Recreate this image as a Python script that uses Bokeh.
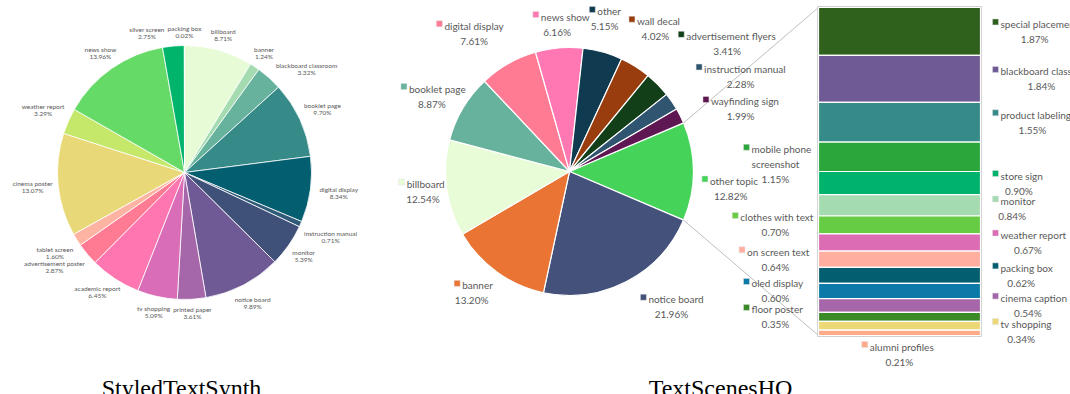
import math
from bokeh.plotting import figure
from bokeh.models import Range1d
from bokeh.core.properties import value
from bokeh.embed import file_html
from bokeh.resources import INLINE

# ---------------- data ----------------
left_title = "StyledTextSynth"
left_labels = ["billboard", "banner", "blackboard classroom", "booklet page", "digital display",
               "instruction manual", "monitor", "notice board", "printed paper", "tv shopping",
               "academic report", "advertisement poster", "tablet screen", "cinema poster",
               "weather report", "news show", "silver screen", "packing box"]
left_values = [8.71, 1.24, 3.32, 9.70, 8.34, 0.71, 5.39, 9.89, 3.61, 5.09,
               6.45, 2.87, 1.60, 13.07, 3.29, 13.96, 2.75, 0.02]
left_colors = ["#e6fbd6", "#a4dbb0", "#66b29c", "#368a88", "#035e6f", "#2f5a78", "#3f5079",
               "#6f5a96", "#a666aa", "#da6db8", "#ff76b0", "#ff7b94", "#ffb3a3", "#e9d877",
               "#c5e86a", "#66da66", "#00b46c", "#0b7aa9"]

right_title = "TextScenesHQ"
right_labels = ["other topic", "notice board", "banner", "billboard", "booklet page",
                "digital display", "news show", "other", "wall decal",
                "advertisement flyers", "instruction manual", "wayfinding sign"]
right_values = [12.82, 21.96, 13.20, 12.54, 8.87, 7.61, 6.16, 5.15, 4.02, 3.41, 2.28, 1.99]
right_colors = ["#45d35a", "#43517b", "#ea7433", "#e8fcd8", "#66b29c", "#ff7b94", "#ff78b4",
                "#0f3a50", "#993d0e", "#133f18", "#2f5570", "#5e1752"]

other_labels = ["special placement", "blackboard classroom", "product labeling",
                "mobile phone screenshot", "store sign", "monitor", "clothes with text",
                "weather report", "on screen text", "packing box", "oled display",
                "cinema caption", "floor poster", "tv shopping", "alumni profiles"]
other_values = [1.87, 1.84, 1.55, 1.15, 0.90, 0.84, 0.70, 0.67, 0.64, 0.62, 0.60,
                0.54, 0.35, 0.34, 0.21]
other_colors = ["#2f611d", "#6f5a96", "#368a88", "#2aa63a", "#00b36c", "#a4dbb0", "#66cc44",
                "#dc6cb4", "#ffaea0", "#035e6f", "#0b7aa9", "#a666aa", "#3b8a28", "#ecd877",
                "#ffab8a"]

# ---------------- layout ----------------
W, H = 1070, 394
def sy(y):
    return H - y

p = figure(width=W, height=H, x_range=Range1d(0, W), y_range=Range1d(0, H),
           output_backend="svg", toolbar_location=None, min_border=0,
           x_axis_location=None, y_axis_location=None)
p.grid.visible = False
p.outline_line_color = None

TXT = "#595959"
FONT = value("Lato")

def tw(s, fs):
    return len(s) * fs * 0.45

def pie_angles(values, start_deg):
    tot = sum(values)
    starts, ends, mids = [], [], []
    t = start_deg
    for v in values:
        span = v / tot * 360.0
        starts.append(t); ends.append(t + span); mids.append(t + span / 2)
        t += span
    return starts, ends, mids

def draw_pie(cx, cy, R, values, colors, start_deg, lw):
    s, e, m = pie_angles(values, start_deg)
    n = len(values)
    p.wedge(x=[cx] * n, y=[sy(cy)] * n, radius=R,
            start_angle=[math.radians(90 - a) for a in e],
            end_angle=[math.radians(90 - a) for a in s],
            fill_color=colors, line_color="white", line_width=lw)
    return s, e, m

# ---- left pie ----
LCX, LCY, LR = 184, 172, 127
FS_L = 6.5
_, _, lmid = draw_pie(LCX, LCY, LR, left_values, left_colors, 0.0, 0.8)
l_nudge = {"silver screen": (-10, 0), "blackboard classroom": (8, 0),
           "advertisement poster": (4, 0), "academic report": (3, -4)}
lx, ly, lt, px_, py_, pt = [], [], [], [], [], []
for lab, v, m in zip(left_labels, left_values, lmid):
    da, dd = l_nudge.get(lab, (0, 0))
    a = math.radians(m + da)
    ux, uy = math.sin(a), math.cos(a)
    w = tw(lab, FS_L)
    d = LR + 6 + w / 2 * abs(ux) + 7 * abs(uy) + dd
    cx, cy = LCX + d * ux, LCY - d * uy
    lx.append(cx); ly.append(sy(cy - 3.5)); lt.append(lab)
    px_.append(cx); py_.append(sy(cy + 3.5)); pt.append(f"{v:.2f}%")
p.text(x=lx + px_, y=ly + py_, text=lt + pt, text_font=FONT, text_font_size=f"{FS_L}px",
       text_align="center", text_baseline="middle", text_color=TXT)

# ---- right pie ----
RCX, RCY, RR = 569, 171, 124
FS_R = 10
ot_share = right_values[0] / sum(right_values) * 360
rstart = 90 - ot_share / 2
rs, re_, rmid = draw_pie(RCX, RCY, RR, right_values, right_colors, rstart, 1.2)

r_nudge = {"other topic": (6, 0), "notice board": (-9.6, 7.5), "banner": (3, 2),
           "billboard": (0, -10), "booklet page": (-2, -9), "digital display": (-5, 3),
           "other": (-2.6, 7.5), "wall decal": (-1, 9), "advertisement flyers": (5.6, 24),
           "instruction manual": (5.3, 18), "wayfinding sign": (6.6, 10)}

nx, ny, nt, qx, qy, qt, mx, my, mc = [], [], [], [], [], [], [], [], []

def block(left, cy, name, pct, color, lines_extra=None, center=None):
    # marker + name on first line, extra lines and pct centered below
    bw = 8 + tw(name, FS_R)
    c = left + bw / 2 if center is None else center
    mx.append(left + 3); my.append(sy(cy - 9.5)); mc.append(color)
    nx.append(left + 8); ny.append(sy(cy - 7.5)); nt.append(name)
    yy = cy + 7.5
    for ex in (lines_extra or []):
        qx.append(c); qy.append(sy(yy)); qt.append(ex)
        yy += 15
    qx.append(c); qy.append(sy(yy)); qt.append(pct)

for lab, v, m, col in zip(right_labels, right_values, rmid, right_colors):
    da, dd = r_nudge.get(lab, (0, 0))
    a = math.radians(m + da)
    ux, uy = math.sin(a), math.cos(a)
    bw = 8 + tw(lab, FS_R)
    d = RR + 8 + bw / 2 * abs(ux) + 14 * abs(uy) + dd
    cx, cy = RCX + d * ux, RCY - d * uy
    block(cx - bw / 2, cy, lab, f"{v:.2f}%", col)

# ---- bar of pie ----
BX0, BX1, BY0, BY1 = 818, 980, 7, 335
scale = (BY1 - BY0) / sum(other_values)
tops, bots = [], []
y = BY0
for v in other_values:
    tops.append(y); y += v * scale; bots.append(y)

# connector lines
p.segment(x0=[RCX + RR * math.sin(math.radians(rs[0])), RCX + RR * math.sin(math.radians(re_[0]))],
          y0=[sy(RCY - RR * math.cos(math.radians(rs[0]))), sy(RCY - RR * math.cos(math.radians(re_[0])))],
          x1=[BX0, BX0], y1=[sy(BY0), sy(BY1)], line_color="#bfbfbf", line_width=1)

p.quad(left=BX0 - 1, right=BX1 + 1, top=sy(BY0 - 1), bottom=sy(BY1 + 1),
       fill_color="white", line_color="#d0d0d0", line_width=1)
p.quad(left=[BX0] * len(tops), right=[BX1] * len(tops), top=[sy(t) for t in tops],
       bottom=[sy(b) for b in bots], fill_color=other_colors, line_color="white", line_width=1.2)

sides = ["R", "R", "R", "L", "R", "R", "L", "R", "L", "R", "L", "R", "L", "R", "B"]
prev = {"L": -1e9, "R": -1e9}
for lab, v, t, b, col, sd in zip(other_labels, other_values, tops, bots, other_colors, sides):
    c = (t + b) / 2
    pct = f"{v:.2f}%"
    if sd == "B":
        bw = 8 + tw(lab, FS_R)
        block((BX0 + BX1) / 2 - bw / 2, BY1 + 18.5, lab, pct, col)
        continue
    c = max(c, prev[sd] + 25.5)
    prev[sd] = c
    if sd == "R":
        block(992, c, lab, pct, col)
    else:
        words = lab.split(" ")
        lines = [lab]
        if len(lab) > 20:
            lines = []
            cur = ""
            for wd in words:
                if cur and len(cur) + 1 + len(wd) > 14:
                    lines.append(cur); cur = wd
                else:
                    cur = wd if not cur else cur + " " + wd
            lines.append(cur)
        bw = 8 + tw(lines[0], FS_R)
        block(774 - bw / 2, c, lines[0], pct, col, lines[1:], center=775)

p.scatter(x=mx, y=my, marker="square", size=6, fill_color=mc, line_color="#e0e0e0", line_width=0.5)
p.text(x=nx, y=ny, text=nt, text_font=FONT, text_font_size=f"{FS_R}px",
       text_align="left", text_baseline="middle", text_color=TXT)
p.text(x=qx, y=qy, text=qt, text_font=FONT, text_font_size=f"{FS_R}px",
       text_align="center", text_baseline="middle", text_color=TXT)

# ---- titles ----
p.text(x=[181, 720], y=[sy(387), sy(387)], text=[left_title, right_title],
       text_font=value("Liberation Serif"), text_font_size="24px", text_align="center",
       text_baseline="alphabetic", text_color="black")

open("out.html", "w").write(file_html(p, INLINE))
